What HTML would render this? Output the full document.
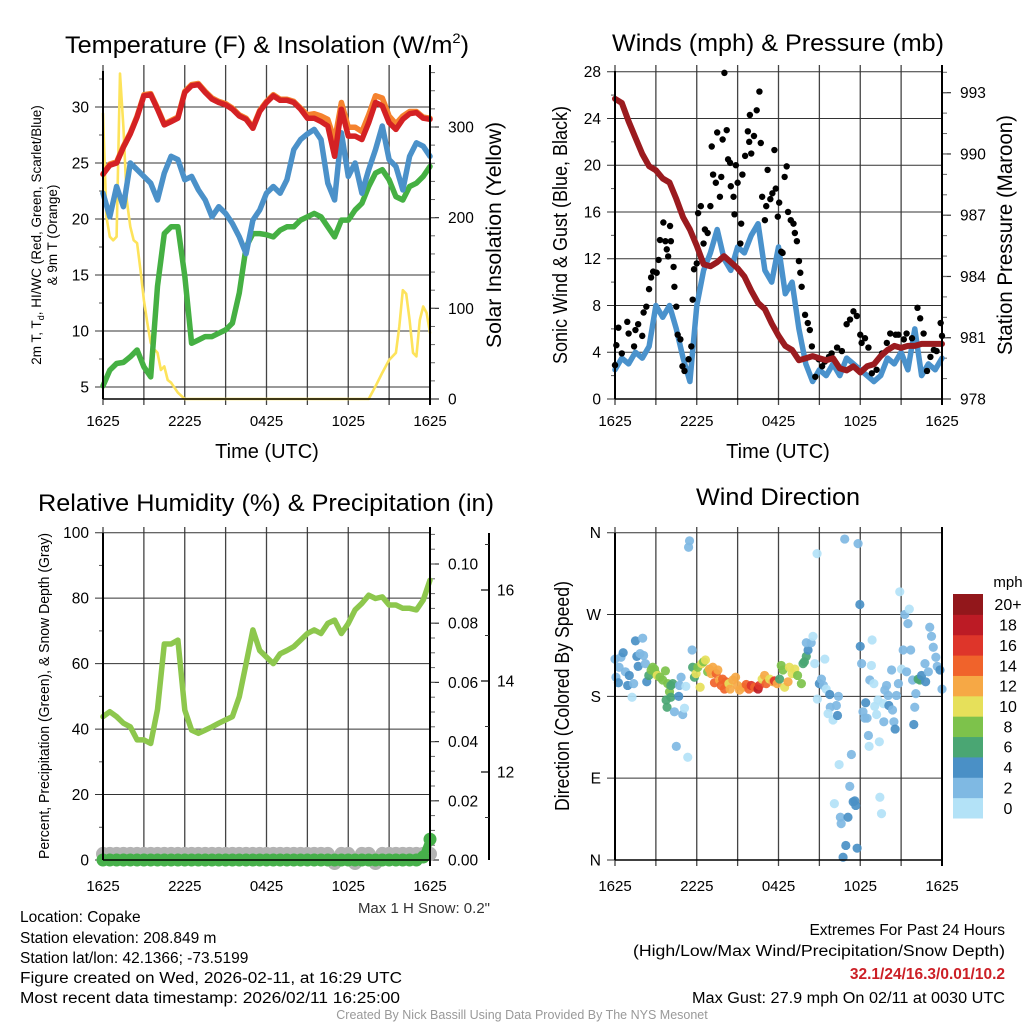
<!DOCTYPE html>
<html><head><meta charset="utf-8"><style>
html,body{margin:0;padding:0;background:#fff;}
svg{display:block;font-family:"Liberation Sans",sans-serif;}
</style></head><body>
<svg id="fig" width="1024" height="1024" viewBox="0 0 1024 1024" xmlns="http://www.w3.org/2000/svg">
<rect width="1024" height="1024" fill="#fff"/>
<g id="titles" font-size="24" fill="#000" text-anchor="middle">
<text x="267" y="53" textLength="404" lengthAdjust="spacingAndGlyphs">Temperature (F) &amp; Insolation (W/m<tspan font-size="14" dy="-10">2</tspan><tspan dy="10">)</tspan></text>
<text x="778" y="51" textLength="332" lengthAdjust="spacingAndGlyphs">Winds (mph) &amp; Pressure (mb)</text>
<text x="266" y="511" textLength="456" lengthAdjust="spacingAndGlyphs">Relative Humidity (%) &amp; Precipitation (in)</text>
<text x="778" y="505" textLength="164" lengthAdjust="spacingAndGlyphs">Wind Direction</text>
</g>
<g id="p1"></g>
<g id="p2"></g>
<g id="p3"></g>
<g id="p4"></g>
<g font-size="15.5" fill="#000">
<text x="20" y="922">Location: Copake</text>
<text x="20" y="943">Station elevation: 208.849 m</text>
<text x="20" y="963">Station lat/lon: 42.1366; -73.5199</text>
<text x="20" y="983" textLength="382" lengthAdjust="spacingAndGlyphs">Figure created on Wed, 2026-02-11, at 16:29 UTC</text>
<text x="20" y="1003" textLength="380" lengthAdjust="spacingAndGlyphs">Most recent data timestamp: 2026/02/11 16:25:00</text>
</g>
<g font-size="15.5" fill="#000" text-anchor="end">
<text x="1005" y="935">Extremes For Past 24 Hours</text>
<text x="1005" y="956" textLength="372" lengthAdjust="spacingAndGlyphs">(High/Low/Max Wind/Precipitation/Snow Depth)</text>
<text x="1005" y="979" fill="#cc1f26" font-weight="bold">32.1/24/16.3/0.01/10.2</text>
<text x="1005" y="1003" textLength="313" lengthAdjust="spacingAndGlyphs">Max Gust: 27.9 mph On 02/11 at 0030 UTC</text>
</g>
<text x="490" y="913" font-size="15" text-anchor="end" fill="#333">Max 1 H Snow: 0.2"</text>
<text x="522" y="1019" font-size="12.5" text-anchor="middle" fill="#999">Created By Nick Bassill Using Data Provided By The NYS Mesonet</text>
</svg>
<script>
// ---------- data ----------
const timeLabels = ["1625","2225","0425","1025","1625"];
const halfHours = [0,0.5,1,1.5,2,2.5,3,3.5,4,4.5,5,5.5,6,6.5,7,7.5,8,8.5,9,9.5,10,10.5,11,11.5,12,12.5,13,13.5,14,14.5,15,15.5,16,16.5,17,17.5,18,18.5,19,19.5,20,20.5,21,21.5,22,22.5,23,23.5,24];
const tempF = [24,24.8,25,26.4,27.6,29.1,31,31.1,29.8,28.4,28.7,29,31.3,31.9,32,31.3,30.7,30.4,30.2,29.8,29.2,28.9,28.1,29.6,30.4,31,30.6,30.6,30.4,29.8,29,29,28.7,28.3,25.6,29.8,27.4,27.4,27.1,28.6,30.4,30.1,28.6,28,28.9,29.4,29.5,29,28.9];
const temp9mF = [24,24.9,25.1,26.5,27.7,29.2,31.1,31.2,29.9,28.5,28.8,29.1,31.4,32,32.1,31.4,30.8,30.5,30.3,29.9,29.3,29,28.2,29.7,30.5,31.1,30.7,30.7,30.5,29.9,29.3,29.4,29.2,28.9,27,30.4,28.2,28.2,27.8,29.3,31,30.8,29.2,28.5,29.2,29.6,29.6,29.1,29];
const windChillF = [22.3,20.2,22.9,21.1,25,24.4,23.8,23.2,21.7,24.1,25.6,25.3,23.5,23.8,22.6,21.7,20.2,21.1,20.5,19.6,18.4,16.9,19.9,20.8,22.3,22.9,22.3,23.5,26.2,27.1,27.6,28,27.1,23.2,21.7,27.7,23.8,25,22.3,24.4,26.2,28.3,25.3,24.7,22.6,25.6,26.8,26.5,25.6];
const dewpointF = [5.1,6.5,7.1,7.2,7.7,8.3,6.8,5.9,14,18.7,19.3,19.3,14.9,8.9,9.2,9.5,9.5,9.8,10.1,10.7,13.4,17.5,18.7,18.7,18.6,18.4,19,19.3,19.3,19.9,20.2,20.5,20.2,19.3,18.4,19.9,19.9,20.8,21.4,22.9,24.1,24.4,23.5,22,21.7,22.9,23.2,23.8,24.7];
const solarTimes = [0,0.25,0.5,0.75,1,1.25,1.5,1.75,2,2.25,2.5,2.75,3,3.25,3.5,3.75,4,4.25,4.5,4.75,5,5.5,6,19.5,20,20.5,21,21.5,21.75,22,22.25,22.5,22.75,23,23.25,23.5,23.75,24];
const solarWm2 = [315,201,179,175,179,359,300,219,190,175,172,142,109,84,62,55,51,32,36,21,18,7,0,0,14,29,43,51,80,120,116,87,51,47,87,102,95,73];

const windMph = [2.5,3.5,3,4,3.5,4.5,8,7,8,6,3.5,1.5,8,11,12.5,14.5,12,11,13,12.5,14,15,11,10,13,9,10,6,3,1.5,2.5,2,3,2,3.5,3,2.5,2,1.5,2,3.5,3,4,2.5,6,2,3,2.5,3.5];
const pressureMb = [992.7,992.5,991.6,990.8,990,989.4,989.2,988.8,988.6,987.8,986.9,986.3,985.5,984.6,984.5,984.7,985,984.7,984.4,984,983.3,982.7,982.4,981.7,981.1,980.6,980.4,979.9,980,980.1,980,979.9,980,979.5,979.4,979.6,979.3,979.6,979.7,980.1,980.4,980.6,980.5,980.6,980.6,980.7,980.7,980.7,980.7];
const gustTimes = [0,0.1,0.25,0.5,0.9,1,1.4,1.5,1.7,2,2.1,2.3,2.5,2.65,2.8,3.06,3.2,3.3,3.55,3.7,3.8,3.9,4.04,4.1,4.3,4.36,4.5,4.6,4.8,4.95,5.1,5.4,5.6,5.7,5.8,6,6.1,6.3,6.5,6.6,6.8,7,7.1,7.2,7.4,7.5,7.7,7.8,7.9,8.03,8.2,8.3,8.45,8.5,8.7,8.77,8.87,9,9.2,9.26,9.35,9.55,9.75,9.85,9.9,10,10.2,10.4,10.6,10.7,10.8,11,11.1,11.2,11.4,11.55,11.7,11.8,11.95,12.05,12.2,12.3,12.45,12.6,12.7,12.9,13.1,13.2,13.35,13.5,13.6,13.7,13.95,14.15,14.3,14.45,14.7,14.95,15.2,15.4,15.7,15.9,16.3,16.65,17,17.25,17.5,17.75,18,18.1,18.35,18.6,18.85,19.2,19.6,19.95,20.2,20.6,20.8,21.2,21.4,21.8,22.2,22.4,22.65,22.9,23.15,23.4,23.6,23.9,24];
const gustMph = [2.9,4.6,6.1,3.9,6.6,5.6,4.5,5.9,6.4,5.4,7.4,7.9,9.4,10.4,10.9,10.8,11.9,13.6,15.1,13.5,12.8,12.2,14.8,13.5,11.3,9.6,7.9,5.5,5.1,2.8,2.4,3.4,4.5,8.5,11.1,11.6,15.9,16.5,13.3,14.5,14.2,16.5,21.6,19.2,18.5,22.8,17.3,19,22.2,27.9,23,20.5,20.2,18.2,17.3,15.8,20,18.5,13.3,15,19.2,20.8,22.9,22,24.3,21,22.5,24.7,26.3,21.9,17.3,15.3,16.5,19.6,17.1,17.6,21.3,18,15.6,16.8,12.6,12.5,19,19.9,16,15.3,15,14.2,13.5,11.8,10.8,9.6,7.2,6.5,5.9,4.5,1.9,3.4,2.8,3.2,3.6,3.9,4.4,4.1,6.4,6.8,7.5,7.1,5.5,4.8,5.2,4.4,2.2,2.5,3.9,4.8,5.6,5.5,5.5,5.1,5.6,5.2,7.8,6.9,5.6,2.4,3.6,4.2,4.1,6.5,5.4];

const rhPct = [43.8,45.3,43.8,41.8,40.7,36.7,36.7,35.6,46,66,66,67.2,45.8,39.7,38.7,39.7,40.7,41.8,42.8,43.8,49.9,60,70.3,64,62,60,63,64,65.2,67.2,69.2,70.3,69.2,72.3,73.3,69.2,72.3,76.4,78.4,80.9,79.9,80.4,77.9,77.9,76.9,76.9,76.4,79.4,85.5];
const precipIn = [0,0,0,0,0,0,0,0,0,0,0,0,0,0,0,0,0,0,0,0,0,0,0,0,0,0,0,0,0,0,0,0,0,0,0,0,0,0,0,0,0,0,0,0,0,0,0,0.001,0.007];
const snowDepthIn = [10.2,10.2,10.2,10.2,10.2,10.2,10.2,10.2,10.2,10.2,10.2,10.2,10.2,10.2,10.2,10.2,10.2,10.2,10.2,10.2,10.2,10.2,10.2,10.2,10.2,10.2,10.2,10.2,10.2,10.2,10.2,10.2,10.2,10.2,10.0,10.2,10.2,10.0,10.2,10.2,10.0,10.2,10.2,10.2,10.2,10.2,10.2,10.2,10.2];

const dirTimes = [0,0.07,0.25,0.3,0.44,0.6,0.76,0.93,1.05,1.25,1.37,1.5,1.6,1.7,1.84,2.03,2.1,2.23,2.33,2.48,2.65,2.77,2.9,3,3.1,3.3,3.5,3.7,3.87,4,4.1,4.24,3.75,3.82,4.1,4.36,4.5,4.68,4.73,4.85,4.97,5.1,5.2,5.34,5.47,5.4,5.66,5.7,5.83,5.95,6.08,6.25,6.37,6.5,6.64,6.8,6.93,7.06,7.18,7.3,7.43,7.55,7.67,7.8,7.9,8.04,8.16,8.36,8.45,8.65,8.85,9,9.14,9.4,9.63,9.83,10,10.25,10.5,10.6,10.8,10.98,11.1,11.35,11.6,11.7,11.9,12.08,12.2,12.33,12.45,12.7,12.8,13,13.2,13.4,13.68,13.8,13.9,14.04,14.17,14.04,14.4,14.53,14.66,14.83,14.85,15,15.15,15.3,15.4,15.5,15.76,15.8,15.64,16,16.1,16.25,16.33,16.4,16.45,16.54,16.6,16.74,16.86,16.94,17.1,17.23,17.35,17.48,17.6,17.67,17.77,17.84,17.97,18,18.1,18.2,18.33,18.4,18.5,18.6,18.65,18.7,18.82,18.87,19,19.06,19.2,19.3,19.4,19.44,19.56,19.7,19.73,19.8,19.93,20.05,20.1,20.3,20.37,20.47,20.56,20.66,20.8,20.9,21.03,21.15,21.27,21.4,21.5,21.6,21.7,21.84,21.93,22,22.08,22.25,22.38,22.5,22.75,22.8,23,23.1,23.23,23.36,23.55,23.65,23.85,24];
const dirDeg = [221,201,195,212,223,228,207,192,203,179,194,241,224,213,227,244,225,216,196,203,209,212,210,205,203,201,198,208,194,185,192,194,176,168,179,163,125,180,192,201,160,167,191,113,351,344,231,212,201,205,212,190,216,218,220,207,210,205,212,195,205,209,198,192,199,188,196,194,188,198,201,192,187,190,193,188,192,190,188,192,199,203,194,199,196,197,194,199,214,209,190,196,212,205,210,203,194,216,218,224,231,239,239,246,216,337,177,194,199,192,221,188,182,168,161,154,62,170,159,180,105,47,40,3,353,16,47,81,116,64,65,60,13,348,281,235,216,163,156,173,156,137,125,198,214,242,194,169,160,176,130,69,51,172,152,187,192,181,170,209,165,152,144,181,194,295,210,231,270,207,260,276,231,198,149,168,183,199,198,203,216,196,207,256,246,234,223,213,209,188];
const dirSpeed = [3,3,5,3,3,5,3,5,5,1,3,5,5,5,3,3,3,3,5,7,9,9,9,9,11,9,9,9,9,9,7,7,7,7,7,3,3,5,3,3,3,1,1,1,3,3,3,7,7,11,9,11,11,9,11,9,13,13,13,15,15,13,13,15,15,15,15,11,13,13,13,13,13,13,15,15,17,15,19,17,11,13,15,11,13,17,13,7,9,9,11,13,11,11,11,9,9,7,7,7,5,3,3,1,1,1,1,5,3,3,1,1,5,3,1,1,1,3,5,3,1,3,3,5,3,5,5,3,3,5,5,5,5,3,5,5,3,3,3,5,3,3,1,3,1,1,1,1,1,1,1,1,1,1,3,3,3,3,5,3,3,3,5,3,3,1,1,3,3,3,3,1,3,3,5,3,3,7,7,5,3,5,3,3,3,3,3,3,5,3];
const speedBinLabels = ["0","2","4","6","8","10","12","14","16","18","20+"];
const speedBinColors = ["#b3e2f7","#7fb9e3","#4a90c6","#4aa673","#7dc24b","#e6e05a","#f6a845","#f0632b","#de352a","#bc1b25","#92171b"];

// ---------- helpers ----------
const NS = "http://www.w3.org/2000/svg";
function mk(parent, tag, attrs){ const e=document.createElementNS(NS,tag); for(const k in attrs) e.setAttribute(k,attrs[k]); parent.appendChild(e); return e; }
function timeScale(x0,x1){ return t => x0 + t/24*(x1-x0); }
function linScale(v0,v1,y0,y1){ return v => y0 + (v-v0)/(v1-v0)*(y1-y0); }

function frame(g, X0, X1, Y0, Y1, hVals, yS, labOff){
  for(let i=0;i<=8;i++){ const x=X0+i*(X1-X0)/8;
    const l=mk(g,'line',{x1:x,y1:Y0-6,x2:x,y2:Y1+6,stroke:'#444','stroke-width':1.3});
      }
  hVals.forEach(v=>{ const y=yS(v);
    const l=mk(g,'line',{x1:X0-8,y1:y,x2:X1,y2:y,stroke:'#333','stroke-width':1});
      });
  const xs=timeScale(X0,X1);
  timeLabels.forEach((lab,i)=>{ const t=mk(g,'text',{x:xs(i*6),y:Y1+labOff,'font-size':15,'text-anchor':'middle'}); t.textContent=lab;
      });
}
function border(g,X0,X1,Y0,Y1){
  const b=mk(g,'line',{x1:X0,y1:Y0,x2:X0,y2:Y1,stroke:'#000','stroke-width':2});
   
  const r=mk(g,'line',{x1:X1,y1:Y0-6,x2:X1,y2:Y1+6,stroke:'#000','stroke-width':2});
   
  const bo=mk(g,'line',{x1:X0,y1:Y1,x2:X1,y2:Y1,stroke:'#000','stroke-width':1.5});
   
}
function leftTicks(g,X0,vals,labels,yS,minor){
  vals.forEach((v,i)=>{ const t=mk(g,'text',{x:X0-14,y:yS(v)+5.5,'font-size':15.5,'text-anchor':'end'}); t.textContent=labels[i];
      });
  minor.forEach(v=>{ const l=mk(g,'line',{x1:X0-4,y1:yS(v),x2:X0,y2:yS(v),stroke:'#555','stroke-width':1});
      });
}
function rightTicks(g,X1,vals,labels,yS,minor,tx){
  vals.forEach((v,i)=>{ const y=yS(v);
    const l=mk(g,'line',{x1:X1,y1:y,x2:X1+9,y2:y,stroke:'#333','stroke-width':1.2});
     
    const t=mk(g,'text',{x:tx,y:y+5.5,'font-size':15.5}); t.textContent=labels[i];
      });
  minor.forEach(v=>{ const l=mk(g,'line',{x1:X1,y1:yS(v),x2:X1+5,y2:yS(v),stroke:'#666','stroke-width':1});
      });
}
function vtext(g,x,y,txt,size,name,len){
  const t=mk(g,'text',{x:0,y:0,'font-size':size,'text-anchor':'middle',transform:`translate(${x},${y}) rotate(-90)`});
  if(len){t.setAttribute('textLength',len);t.setAttribute('lengthAdjust','spacingAndGlyphs');}
  t.textContent=txt;   return t;
}
function htext(g,x,y,txt,size,name){
  const t=mk(g,'text',{x:x,y:y,'font-size':size,'text-anchor':'middle'}); t.textContent=txt;
    return t;
}
function path(g,ts,vs,xS,yS,color,w,name){
  const d=ts.map((t,i)=>(i?'L':'M')+xS(t).toFixed(1)+','+yS(vs[i]).toFixed(1)).join('');
  const p=mk(g,'path',{d:d,fill:'none',stroke:color,'stroke-width':w,'stroke-linejoin':'round','stroke-linecap':'round'});
    return p;
}
function range(a,b,s){const r=[];for(let v=a;v<=b+1e-9;v+=s)r.push(+v.toFixed(4));return r;}

// ---------- panel 1: temperature ----------
(function(){
  const g=document.getElementById('p1'); const X0=103,X1=430,Y0=71,Y1=399;
  const xS=timeScale(X0,X1); const yS=linScale(5,30,387,107); const sS=linScale(0,300,399,127);
  frame(g,X0,X1,Y0,Y1,[5,10,15,20,25,30],yS,27);
  leftTicks(g,X0,[5,10,15,20,25,30],["5","10","15","20","25","30"],yS,range(7.5,32.5,5));
  rightTicks(g,X1,[0,100,200,300],["0","100","200","300"],sS,range(20,360,20),X1+18);
  path(g,solarTimes,solarWm2,xS,sS,'#fde35b',2.6,'solar-insolation-line');
  path(g,halfHours,dewpointF,xS,yS,'#45b043',5.5,'dewpoint-line');
  path(g,halfHours,windChillF,xS,yS,'#4b91c9',5.5,'wind-chill-line');
  path(g,halfHours,temp9mF,xS,yS,'#f5822e',5.5,'temp-9m-line');
  path(g,halfHours,tempF,xS,yS,'#d42124',5.5,'temp-2m-line');
  border(g,X0,X1,Y0,Y1);
  const t=mk(g,'text',{x:0,y:0,'font-size':13.5,'text-anchor':'middle',transform:'translate(41,235) rotate(-90)'});
   
  t.innerHTML='2m T, T<tspan font-size="9" dy="3">d</tspan><tspan dy="-3">, HI/WC (Red, Green, Scarlet/Blue)</tspan>';
  vtext(g,57,235,'& 9m T (Orange)',13.5,'left-axis-title-line2');
  vtext(g,501,235,'Solar Insolation (Yellow)',21,'right-axis-title',226);
  htext(g,267,458,'Time (UTC)',20,'x-axis-title');
})();

// ---------- panel 2: winds ----------
(function(){
  const g=document.getElementById('p2'); const X0=615,X1=942,Y0=71,Y1=399;
  const xS=timeScale(X0,X1); const yS=linScale(0,28,399,71.7); const pS=linScale(978,993,399,92.7);
  frame(g,X0,X1,Y0,Y1,[0,4,8,12,16,20,24,28],yS,27);
  leftTicks(g,X0,[0,4,8,12,16,20,24,28],["0","4","8","12","16","20","24","28"],yS,range(2,26,4));
  rightTicks(g,X1,[978,981,984,987,990,993],["978","981","984","987","990","993"],pS,range(979,994,1),X1+18);
  path(g,halfHours,windMph,xS,yS,'#4a92cc',5.5,'sonic-wind-line');
  gustTimes.forEach((t,i)=>{ const c=mk(g,'circle',{cx:xS(t),cy:yS(gustMph[i]),r:3.2,fill:'#000'});
      });
  path(g,halfHours,pressureMb,xS,pS,'#9b1b1f',6,'pressure-line');
  border(g,X0,X1,Y0,Y1);
  vtext(g,567,235,'Sonic Wind & Gust (Blue, Black)',20,'left-axis-title',258);
  vtext(g,1012,235,'Station Pressure (Maroon)',21,'right-axis-title',240);
  htext(g,778,458,'Time (UTC)',20,'x-axis-title');
})();

// ---------- panel 3: humidity ----------
(function(){
  const g=document.getElementById('p3'); const X0=103,X1=430,Y0=533,Y1=860;
  const xS=timeScale(X0,X1); const yS=linScale(0,100,860,532.7); const prS=linScale(0,0.1,860,564); const snS=linScale(12,14,772,681);
  frame(g,X0,X1,Y0,Y1,[0,20,40,60,80,100],yS,31);
  leftTicks(g,X0,[0,20,40,60,80,100],["0","20","40","60","80","100"],yS,range(10,90,20));
  rightTicks(g,X1,[0,0.02,0.04,0.06,0.08,0.1],["0.00","0.02","0.04","0.06","0.08","0.10"],prS,range(0.005,0.11,0.005),X1+18);
  const ax=mk(g,'line',{x1:489,y1:533,x2:489,y2:860,stroke:'#000','stroke-width':2});
   
  [12,14,16].forEach(v=>{ const l=mk(g,'line',{x1:489,y1:snS(v),x2:481,y2:snS(v),stroke:'#000','stroke-width':1.2});
     
    const t=mk(g,'text',{x:497,y:snS(v)+5.5,'font-size':15.5}); t.textContent=String(v);
      });
  [11,13,15,17].forEach(v=>{ const l=mk(g,'line',{x1:489,y1:snS(v),x2:485,y2:snS(v),stroke:'#333','stroke-width':1});
      });
  halfHours.forEach((t,i)=>{ const c=mk(g,'circle',{cx:xS(t),cy:snS(snowDepthIn[i]),r:7,fill:'#b3b3b3'});
      });
  halfHours.forEach((t,i)=>{ const c=mk(g,'circle',{cx:xS(t),cy:prS(precipIn[i]),r:6.5,fill:'#46b04a'});
      });
  path(g,halfHours,precipIn,xS,prS,'#46b04a',8,'precip-line');
  path(g,halfHours,rhPct,xS,yS,'#8dc74d',5.5,'relative-humidity-line');
  border(g,X0,X1,Y0,Y1);
  vtext(g,49,696,'Percent, Precipitation (Green), & Snow Depth (Gray)',14.5,'left-axis-title',326);
})();

// ---------- panel 4: wind direction ----------
(function(){
  const g=document.getElementById('p4'); const X0=615,X1=942,Y0=533,Y1=860;
  const xS=timeScale(X0,X1); const dS=linScale(0,360,860,532.7);
  frame(g,X0,X1,Y0,Y1,[0,90,180,270,360],dS,31);
  leftTicks(g,X0,[0,90,180,270,360],["N","E","S","W","N"],dS,[]);
  function colorFor(s){ const i=Math.min(10,Math.max(0,Math.floor(s/2))); return speedBinColors[i]; }
  dirTimes.forEach((t,i)=>{ const c=mk(g,'circle',{cx:xS(t),cy:dS(dirDeg[i]),r:4.6,fill:colorFor(dirSpeed[i]),'fill-opacity':0.92});
      });
  border(g,X0,X1,Y0,Y1);
  vtext(g,569,696,'Direction (Colored By Speed)',20,'left-axis-title',230);
  const cb=mk(g,'g',{});  
  const top=594,bot=818,h=(bot-top)/11;
  speedBinColors.forEach((col,i)=>{ const y=bot-(i+1)*h;
    const r=mk(cb,'rect',{x:953,y:y,width:30,height:h+0.5,fill:col});
     
    const t=mk(cb,'text',{x:1008,y:y+h/2+6,'font-size':16,'text-anchor':'middle'}); t.textContent=speedBinLabels[i];
      });
  const u=mk(cb,'text',{x:1008,y:587,'font-size':15,'text-anchor':'middle'}); u.textContent='mph';
   
})();
</script>
</body></html>
